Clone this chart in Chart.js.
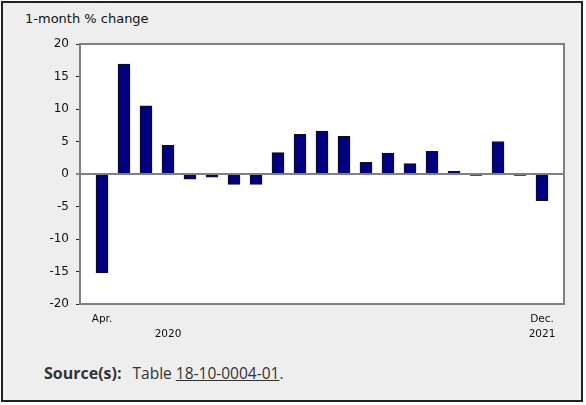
<!DOCTYPE html>
<html><head><meta charset="utf-8">
<script src="https://cdn.jsdelivr.net/npm/chart.js@4"></script>
<style>
html,body{margin:0;padding:0;background:#fff;}
#frame{position:absolute;left:1px;top:1px;width:582px;height:401px;box-sizing:border-box;border:2px solid #222;background:#eeeeee;}
#title{position:absolute;left:25px;top:11px;font:13px/15px "DejaVu Sans";color:#111;white-space:nowrap;}
#wrap{position:absolute;left:0;top:0;width:586px;height:360px;}
#source{position:absolute;left:44px;top:363px;font:15.5px/20px "Open Sans";color:#333;white-space:nowrap;}
#source b{font-size:16px;margin-right:11px}
#source a{color:#333;text-decoration:underline}
</style></head>
<body>
<div id="frame"></div>
<div id="title">1-month % change</div>
<div id="wrap"><canvas id="c" width="586" height="360"></canvas></div>
<div id="source"><b>Source(s):</b>Table <a href="#">18-10-0004-01</a>.</div>
<script>
const months = ['Apr.','May','Jun.','Jul.','Aug.','Sep.','Oct.','Nov.','Dec.','Jan.','Feb.','Mar.','Apr.','May','Jun.','Jul.','Aug.','Sep.','Oct.','Nov.','Dec.'];
const values = [-15.2, 16.9, 10.5, 4.4, -0.8, -0.5, -1.6, -1.6, 3.3, 6.1, 6.6, 5.8, 1.8, 3.2, 1.6, 3.5, 0.4, -0.2, 5.0, -0.2, -4.1];
const monthTickLabels = ['Apr.','','','','','','','','','','','','','','','','','','','','Dec.'];
const yearTickLabels = ['','','','2020','','','','','','','','','','','','','','','','','2021'];
const yTicks = [-20, -15, -10, -5, 0, 5, 10, 15, 20];

const labels = [''].concat(months, ['']);
const data = [null].concat(values, [null]);

const plotFrame = {
  id: 'plotFrame',
  beforeDraw(chart) {
    const a = chart.chartArea, ctx = chart.ctx;
    ctx.save();
    ctx.fillStyle = '#ffffff';
    ctx.fillRect(a.left, a.top, a.right - a.left, a.bottom - a.top);
    ctx.restore();
  },
  afterDatasetsDraw(chart) {
    const a = chart.chartArea, ctx = chart.ctx;
    ctx.save();
    ctx.strokeStyle = '#808080';
    ctx.lineWidth = 2;
    ctx.strokeRect(a.left, a.top, a.right - a.left, a.bottom - a.top);
    ctx.restore();
  }
};

new Chart(document.getElementById('c'), {
  type: 'bar',
  data: {
    labels: labels,
    datasets: [{
      data: data,
      backgroundColor: '#000080',
      borderColor: '#111111',
      borderWidth: 1,
      barThickness: 12
    }]
  },
  options: {
    responsive: false,
    animation: false,
    devicePixelRatio: 1,
    layout: { padding: { left: 0, top: 44, right: 22, bottom: 20 } },
    plugins: { legend: { display: false }, tooltip: { enabled: false }, title: { display: false } },
    scales: {
      x: {
        type: 'category',
        offset: false,
        grid: { display: false, drawTicks: false },
        border: { display: false },
        ticks: {
          autoSkip: false, maxRotation: 0, minRotation: 0, padding: 8,
          color: '#111',
          font: { family: 'DejaVu Sans', size: 10.5, lineHeight: '15px' },
          callback: function(v, i) {
            const k = i - 1;
            if (k < 0 || k >= months.length) return '';
            if (!monthTickLabels[k] && !yearTickLabels[k]) return '';
            return [monthTickLabels[k], yearTickLabels[k]];
          }
        },
        afterFit: s => { s.height = 36; }
      },
      y: {
        min: yTicks[0], max: yTicks[yTicks.length - 1],
        afterBuildTicks: s => { s.ticks = yTicks.map(v => ({ value: v })); },
        border: { display: false },
        grid: {
          drawOnChartArea: true,
          color: c => (c.tick && c.tick.value === 0) ? '#808080' : 'rgba(0,0,0,0)',
          lineWidth: c => (c.tick && c.tick.value === 0) ? 2 : 1,
          tickColor: '#222',
          tickWidth: 1,
          tickLength: 4
        },
        ticks: {
          padding: 7,
          color: '#111',
          font: { family: 'DejaVu Sans', size: 12 }
        },
        afterFit: s => { s.width = 80; }
      }
    }
  },
  plugins: [plotFrame]
});
</script>
</body></html>
